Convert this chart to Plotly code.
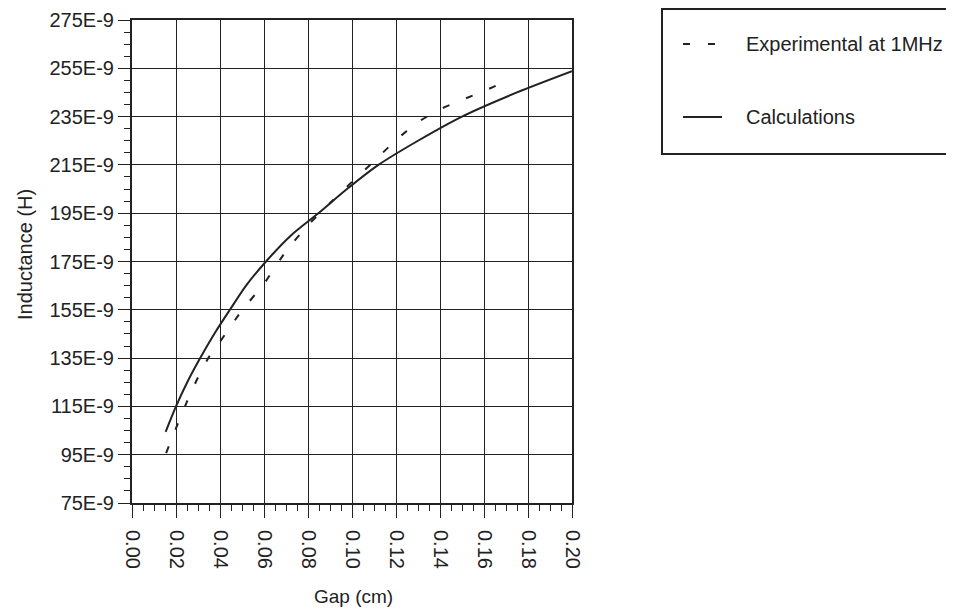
import plotly.graph_objects as go

# ---- data (inductance in units of 1E-9 H, gap in cm) ----
calc_gap = [0.0153, 0.02, 0.025, 0.031, 0.038, 0.0445, 0.052, 0.0605, 0.072, 0.0847,
            0.098, 0.112, 0.13, 0.15, 0.175, 0.20]
calc_L = [104.5, 115.0, 124.8, 135.0, 145.9, 155.0, 165.2, 174.6, 185.6, 195.0,
          205.2, 215.0, 225.0, 235.0, 245.0, 253.8]

exp_gap = [0.0155, 0.02, 0.025, 0.03, 0.035, 0.04, 0.05, 0.06, 0.07, 0.08, 0.09,
           0.10, 0.11, 0.12, 0.13, 0.14, 0.15, 0.16, 0.168]
exp_L = [95.7, 106.0, 117.0, 127.0, 135.5, 141.8, 154.8, 165.8, 179.3, 190.0, 199.2,
         208.0, 216.5, 225.3, 232.7, 238.0, 241.9, 245.6, 248.8]

y_ticks = [75, 95, 115, 135, 155, 175, 195, 215, 235, 255, 275]
y_ticktext = [f"{v}E-9" for v in y_ticks]
x_ticks = [0.00, 0.02, 0.04, 0.06, 0.08, 0.10, 0.12, 0.14, 0.16, 0.18, 0.20]
x_ticktext = [f"{v:.2f}" for v in x_ticks]

legend_labels = ["Experimental at 1MHz", "Calculations"]

INK = "#222222"
FONT = "Liberation Sans, Arial, sans-serif"

fig = go.Figure()
fig.add_trace(go.Scatter(x=calc_gap, y=calc_L, mode="lines", name=legend_labels[1],
                         line=dict(color=INK, width=2, shape="spline", smoothing=0.8),
                         showlegend=False))
fig.add_trace(go.Scatter(x=exp_gap, y=exp_L, mode="lines", name=legend_labels[0],
                         line=dict(color=INK, width=2, dash="7px,18px", shape="spline",
                                   smoothing=0.6),
                         showlegend=False))

# the page body has an 8px margin, so the figure is offset by 8px
OFF = 8
W, H = 954 - OFF, 613 - OFF
L, R, T, B = 132 - OFF, 382, 20 - OFF, 110
pw, ph = W - L - R, H - T - B


def px(xp):
    """window x pixel -> paper x"""
    return (xp - OFF - L) / pw


def py(yp):
    """window y pixel -> paper y"""
    return (H - B - (yp - OFF)) / ph


fig.update_layout(
    width=W, height=H, autosize=False,
    margin=dict(l=L, r=R, t=T, b=B, pad=0),
    paper_bgcolor="white", plot_bgcolor="white",
    font=dict(family=FONT, size=20, color=INK),
    showlegend=False,
)

fig.update_xaxes(
    range=[0, 0.20], tickvals=x_ticks, ticktext=x_ticktext, tickangle=90,
    showgrid=True, gridcolor=INK, gridwidth=1,
    showline=True, linecolor=INK, linewidth=2, mirror=True,
    ticks="outside", ticklen=13, tickwidth=1, tickcolor=INK,
    ticklabelstandoff=8, automargin=False,
    minor=dict(dtick=0.005, ticks="outside", ticklen=6, tickwidth=1, tickcolor=INK, showgrid=False),
    zeroline=False, tickfont=dict(size=20),
)
fig.update_yaxes(
    range=[75, 275], tickvals=y_ticks, ticktext=y_ticktext,
    showgrid=True, gridcolor=INK, gridwidth=1,
    showline=True, linecolor=INK, linewidth=2, mirror=True,
    ticks="outside", ticklen=12, tickwidth=1, tickcolor=INK, automargin=False,
    minor=dict(dtick=5, ticks="outside", ticklen=6, tickwidth=1, tickcolor=INK, showgrid=False),
    zeroline=False, tickfont=dict(size=20),
)

# axis titles
fig.add_annotation(text="Gap (cm)", xref="paper", yref="paper", x=px(353), y=py(596),
                   showarrow=False, xanchor="center", yanchor="middle", font=dict(size=19))
fig.add_annotation(text="Inductance (H)", xref="paper", yref="paper", x=px(25), y=py(255),
                   showarrow=False, xanchor="center", yanchor="middle", textangle=-90,
                   font=dict(size=20))

# legend box (drawn by hand to match the reference frame, which runs off the right edge)
fig.add_shape(type="rect", xref="paper", yref="paper", x0=px(662), x1=px(985),
              y0=py(154), y1=py(9), line=dict(color=INK, width=2), fillcolor="rgba(0,0,0,0)")
fig.add_shape(type="line", xref="paper", yref="paper", x0=px(683), x1=px(715),
              y0=py(44), y1=py(44), line=dict(color=INK, width=2, dash="7px,18px"))
fig.add_shape(type="line", xref="paper", yref="paper", x0=px(683), x1=px(722),
              y0=py(117), y1=py(117), line=dict(color=INK, width=2))
fig.add_annotation(text=legend_labels[0], xref="paper", yref="paper", x=px(744), y=py(44),
                   showarrow=False, xanchor="left", yanchor="middle", font=dict(size=20))
fig.add_annotation(text=legend_labels[1], xref="paper", yref="paper", x=px(744), y=py(117),
                   showarrow=False, xanchor="left", yanchor="middle", font=dict(size=20))

fig.write_html("out.html")
